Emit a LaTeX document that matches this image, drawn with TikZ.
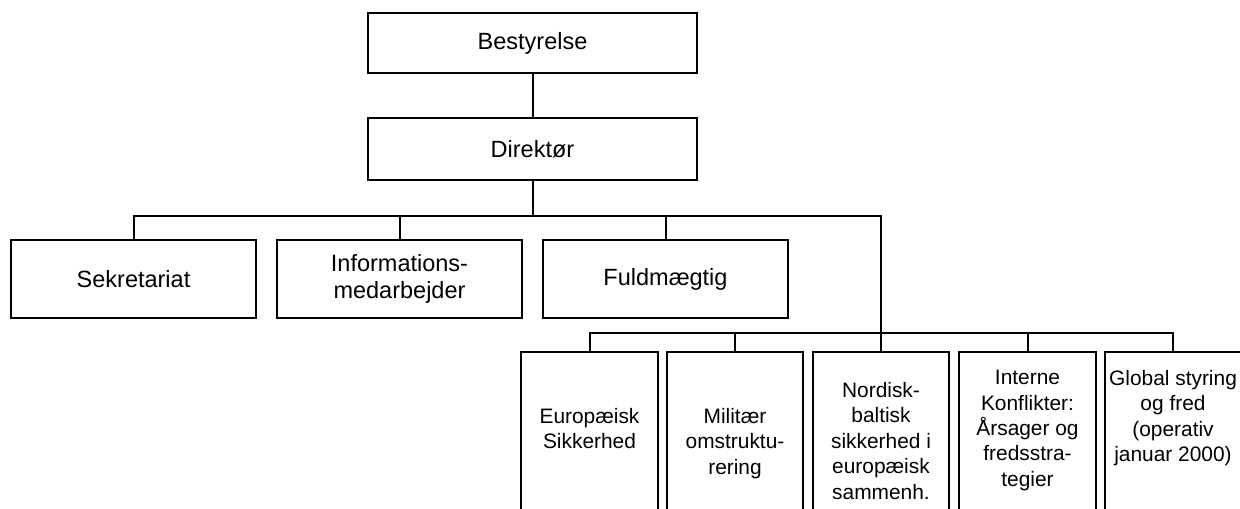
\documentclass[tikz,border=0pt]{standalone}
\usepackage{fontspec}
\setmainfont{Liberation Sans}
\begin{document}
\begin{tikzpicture}[x=0.5pt,y=-0.5pt,
  box/.style={draw, line width=1.2pt, rectangle, inner sep=0pt, align=center},
  topbox/.style={box, font=\fontsize{11.75pt}{13.8pt}\selectfont},
  widebox/.style={topbox, minimum width=164.5pt},
  midbox/.style={topbox, minimum width=122.5pt, minimum height=39pt},
  lowbox/.style={box, minimum width=68.25pt, minimum height=89pt},
  lowtext/.style={anchor=north, inner sep=0pt, align=center, font=\fontsize{10.45pt}{12.7pt}\selectfont},
  conn/.style={line width=1pt}]
\useasboundingbox (0,0) rectangle (1240,508);
\clip (0,0) rectangle (1240,508);
% top
\node[widebox, minimum height=30pt] (best) at (532.5,43) {Bestyrelse};
\node[widebox, minimum height=31pt] (dir) at (532.5,149) {Direktør};
% second row
\node[midbox] (sek) at (133.5,279) {Sekretariat};
\node[midbox] (info) at (399.5,279) {Informations-\\medarbejder};
\node[midbox] (fuld) at (665.5,279) {Fuldmægtig};
% bottom row
\node[lowbox] (eur) at (589.5,441) {};
\node[lowbox] (mil) at (735,441) {};
\node[lowbox] (nor) at (881,441) {};
\node[lowbox] (int) at (1027.5,441) {};
\node[lowbox, minimum width=70pt] (glo) at (1175,441) {};
\node[lowtext] (eurt) at (589.5,408) {Europæisk\\Sikkerhed};
\node[lowtext] (milt) at (735,408) {Militær\\omstruktu-\\rering};
\node[lowtext] (nort) at (881,382) {Nordisk-\\baltisk\\sikkerhed i\\europæisk\\sammenh.};
\node[lowtext] (intt) at (1027.5,370) {Interne\\Konflikter:\\Årsager og\\fredsstra-\\tegier};
\node[lowtext] (glot) at (1173,370) {Global styring\\og fred\\(operativ\\januar 2000)};
% connectors
\coordinate (busA) at (532.5,216);
\coordinate (busB) at (881,333);
\coordinate (gloTop) at (1173,352);
\draw[conn] (best) -- (dir);
\draw[conn] (dir.south) -- (busA);
\draw[conn] (sek.north) -- (sek.north |- busA) -- (nor.north |- busA) -- (nor.north);
\draw[conn] (info.north) -- (info.north |- busA);
\draw[conn] (fuld.north) -- (fuld.north |- busA);
\draw[conn] (eur.north) -- (eur.north |- busB) -- (gloTop |- busB) -- (gloTop);
\draw[conn] (mil.north) -- (mil.north |- busB);
\draw[conn] (int.north) -- (int.north |- busB);
\end{tikzpicture}
\end{document}
